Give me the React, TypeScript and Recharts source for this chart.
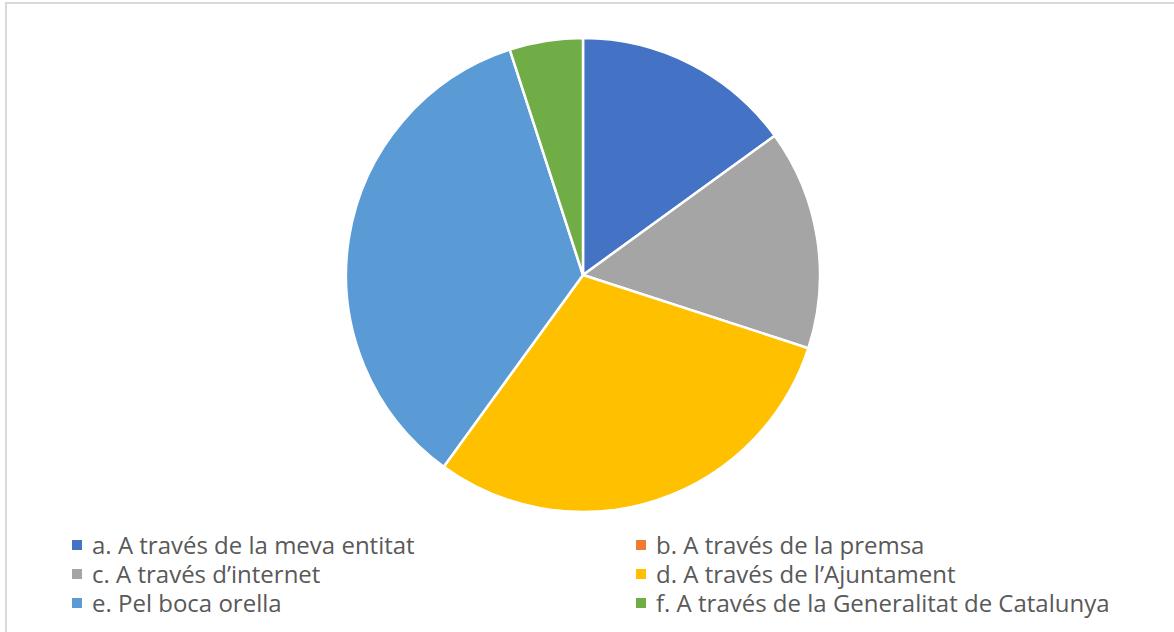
import React from 'react'
import { PieChart, Pie, Cell, Legend } from 'recharts'

const LABELS = [
  'a. A través de la meva entitat',
  'b. A través de la premsa',
  'c. A través d\u2019internet',
  'd. A través de l\u2019Ajuntament',
  'e. Pel boca orella',
  'f. A través de la Generalitat de Catalunya',
]
const VALUES = [3, 0, 3, 6, 7, 1]
const COLORS = ['#4472C4', '#ED7D31', '#A5A5A5', '#FFC000', '#5B9BD5', '#70AD47']

const data = LABELS.map((name, i) => ({ name, value: VALUES[i] }))

const LegendGrid = () => (
  <div
    style={{
      display: 'grid',
      gridTemplateColumns: '564px 500px',
      rowGap: 0,
      fontFamily: '"Open Sans", sans-serif',
      fontSize: 24,
      lineHeight: '28px',
      color: '#595959',
    }}
  >
    {data.map((d, i) => (
      <div key={d.name} style={{ display: 'flex', alignItems: 'center', height: 29, whiteSpace: 'nowrap' }}>
        <span style={{ width: 10, height: 10, background: COLORS[i], marginRight: 10, display: 'inline-block' }} />
        <span style={{ lineHeight: '28px' }}>{d.name}</span>
      </div>
    ))}
  </div>
)

const App = () => {
  return (
    <div style={{ position: 'fixed', left: 0, top: 0, width: 1174, height: 632, overflow: 'hidden', background: '#fff' }}>
      <div
        style={{
          position: 'absolute',
          left: 5,
          top: 2,
          width: 1200,
          height: 700,
          border: '2px solid #D9D9D9',
          boxSizing: 'border-box',
        }}
      />
      <div style={{ position: 'absolute', left: 0, top: 0 }}>
        <PieChart width={1174} height={632} margin={{ top: 0, right: 0, bottom: 0, left: 0 }}>
          <Pie
            data={data}
            dataKey="value"
            cx={583}
            cy={275}
            outerRadius={237}
            startAngle={90}
            endAngle={-270}
            stroke="#fff"
            strokeWidth={2.5}
            isAnimationActive={false}
          >
            {data.map((entry, index) => (
              <Cell key={`cell-${index}`} fill={COLORS[index]} />
            ))}
          </Pie>
          <Legend
            content={() => <LegendGrid />}
            wrapperStyle={{ position: 'absolute', left: 72, top: 530, width: 1100, height: 90 }}
          />
        </PieChart>
      </div>
    </div>
  )
}

export default App
